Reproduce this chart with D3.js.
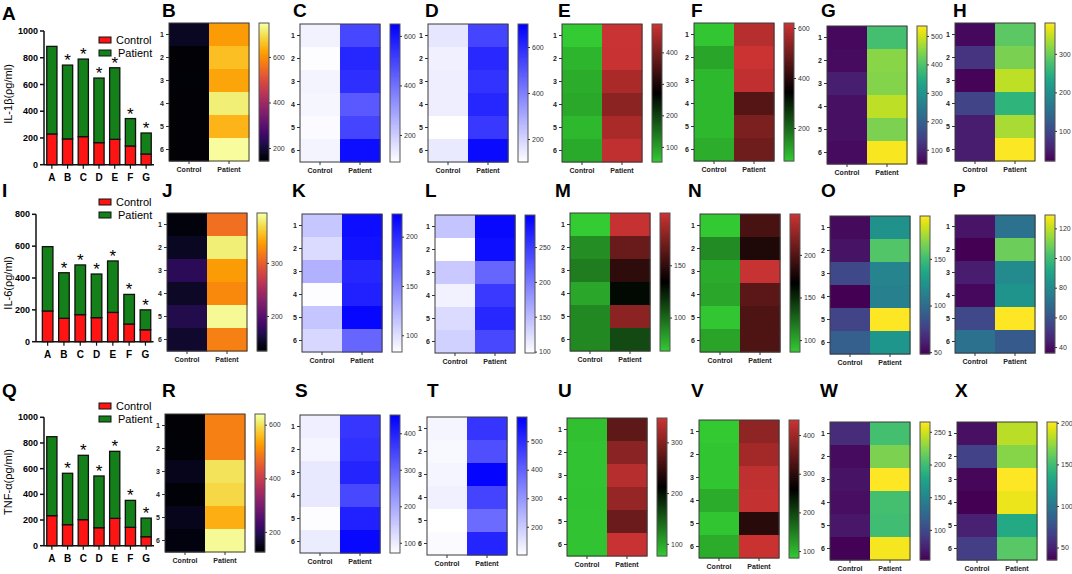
<!DOCTYPE html>
<html>
<head>
<meta charset="utf-8">
<script src="https://cdn.jsdelivr.net/npm/d3@7"></script>
<style>
  body { margin: 0; background: #fff; }
  svg { font-family: "Liberation Sans", Arial, sans-serif; }
</style>
</head>
<body>
<div id="fig"></div>
<script>
// ---------------------------------------------
// ---------          Data             ---------
// ---------------------------------------------

const barCats = ["A", "B", "C", "D", "E", "F", "G"];
const starred = ["B", "C", "D", "E", "F", "G"];
const legendKeys = ["Control", "Patient"];

// stacked bars: control part + patient part (pg/ml)
const il1bControl = [230, 193, 210, 165, 190, 140, 80];
const il1bPatient = [655, 552, 580, 483, 535, 205, 157];
const il6Control = [193, 147, 170, 151, 184, 111, 75];
const il6Patient = [404, 286, 312, 274, 323, 186, 125];
const tnfControl = [234, 164, 203, 140, 213, 143, 70];
const tnfPatient = [615, 400, 501, 403, 522, 210, 145];

const bar1000Ticks = [0, 200, 400, 600, 800, 1000];
const bar800Ticks = [0, 200, 400, 600, 800];

// heatmaps: [control rows 1-6], [patient rows 1-6]
const groups = ["Control", "Patient"];
const rowIds = ["1", "2", "3", "4", "5", "6"];

const hmB = [[180, 150, 152, 148, 150, 150], [616, 658, 628, 720, 646, 743]];
const hmC = [[120, 95, 115, 110, 100, 115], [492, 565, 548, 453, 498, 620]];
const hmD = [[160, 136, 140, 140, 100, 150], [538, 604, 580, 610, 568, 676]];
const hmE = [[54, 76, 85, 91, 74, 89], [488, 486, 453, 420, 453, 477]];
const hmF = [[75, 120, 95, 95, 95, 108], [592, 618, 605, 460, 510, 493]];
const hmG = [[60, 65, 90, 70, 70, 65], [390, 448, 445, 487, 440, 530]];
const hmH = [[30, 76, 25, 94, 50, 50], [290, 308, 344, 255, 333, 378]];

const hmJ = [[140, 150, 173, 152, 168, 155], [311, 381, 337, 326, 389, 321]];
const hmK = [[114, 103, 126, 84, 115, 105], [216, 213, 202, 205, 219, 167]];
const hmL = [[144, 98, 140, 108, 126, 134], [290, 286, 217, 252, 266, 240]];
const hmM = [[68, 88, 94, 80, 90, 90], [198, 168, 149, 131, 179, 110]];
const hmN = [[87, 112, 99, 101, 88, 102], [196, 179, 246, 203, 198, 198]];
const hmO = [[52, 55, 80, 48, 78, 92], [122, 156, 115, 112, 196, 126]];
const hmP = [[41, 36, 43, 38, 56, 71], [71, 108, 80, 84, 129, 62]];

const hmR = [[130, 132, 150, 132, 150, 138], [496, 496, 600, 588, 547, 630]];
const hmS = [[95, 87, 106, 106, 75, 100], [370, 378, 397, 344, 401, 438]];
const hmT = [[120, 115, 120, 130, 101, 108], [484, 435, 575, 455, 382, 517]];
const hmU = [[84, 82, 82, 83, 82, 82], [275, 304, 334, 312, 283, 346]];
const hmV = [[85, 88, 88, 109, 88, 109], [385, 403, 428, 431, 296, 437]];
const hmW = [[80, 60, 64, 62, 67, 55], [202, 223, 265, 202, 200, 262]];
const hmX = [[42, 68, 38, 35, 50, 65], [184, 171, 201, 196, 135, 158]];

// colour bar ranges and ticks
const rangeB = [143, 749], ticksB = [200, 400, 600];
const rangeC = [91, 648], ticksC = [200, 400, 600];
const rangeD = [100, 700], ticksD = [200, 400, 600];
const rangeE = [52, 490], ticksE = [100, 200, 300, 400];
const rangeF = [68, 620], ticksF = [200, 400, 600];
const rangeG = [50, 535], ticksG = [100, 200, 300, 400, 500];
const rangeH = [22, 380], ticksH = [100, 200, 300];
const rangeJ = [134, 394], ticksJ = [200, 300];
const rangeK = [83, 223], ticksK = [100, 150, 200];
const rangeL = [98, 296], ticksL = [100, 150, 200, 250];
const rangeM = [68, 200], ticksM = [100, 150];
const rangeN = [86, 248], ticksN = [100, 150, 200];
const rangeO = [48, 196], ticksO = [50, 100, 150];
const rangeP = [36, 129], ticksP = [40, 60, 80, 100, 120];
const rangeR = [125, 640], ticksR = [200, 400, 600];
const rangeS = [72, 450], ticksS = [100, 200, 300, 400];
const rangeT = [101, 585], ticksT = [200, 300, 400, 500];
const rangeU = [76, 348], ticksU = [100, 200, 300];
const rangeV = [82, 439], ticksV = [100, 200, 300, 400];
const rangeW = [54, 265], ticksW = [100, 150, 200, 250];
const rangeX = [35, 201], ticksX = [50, 100, 150, 200];

// ---------------------------------------------
// ---------         Layout            ---------
// ---------------------------------------------

const W = 1072, H = 574;
const red = "#ff1414", green = "#14801a";
const plotW = 80, plotH = 138, cbW = 10, cbGap = 10;

const barPanels = [
  { letter: "A", ly: 20, control: il1bControl, patient: il1bPatient, max: 1000, ticks: bar1000Ticks,
    axisX: 44, top: 31, bottom: 164.7, band: [44, 154], title: "IL-1β(ρg/ml)", titleY: 94, legY: 37 },
  { letter: "I", ly: 197, control: il6Control, patient: il6Patient, max: 800, ticks: bar800Ticks,
    axisX: 36, top: 214.3, bottom: 341.7, band: [39.5, 153.6], title: "IL-6(ρg/ml)", titleY: 283, legY: 199 },
  { letter: "Q", ly: 397, control: tnfControl, patient: tnfPatient, max: 1000, ticks: bar1000Ticks,
    axisX: 44, top: 417.3, bottom: 545.7, band: [44, 154], title: "TNF-α(ρg/ml)", titleY: 482, legY: 403 }
];

const heatPanels = [
  { letter: "B", vals: hmB, dom: rangeB, ticks: ticksB, scheme: "inferno", x: 169, y: 23, lx: 162, ly: 17 },
  { letter: "C", vals: hmC, dom: rangeC, ticks: ticksC, scheme: "blue", x: 300, y: 24, lx: 293, ly: 17 },
  { letter: "D", vals: hmD, dom: rangeD, ticks: ticksD, scheme: "blue", x: 428, y: 24, lx: 425, ly: 17 },
  { letter: "E", vals: hmE, dom: rangeE, ticks: ticksE, scheme: "gbr", x: 562, y: 24, lx: 558, ly: 17 },
  { letter: "F", vals: hmF, dom: rangeF, ticks: ticksF, scheme: "gbr", x: 694, y: 23, lx: 691, ly: 17 },
  { letter: "G", vals: hmG, dom: rangeG, ticks: ticksG, scheme: "viridis", x: 827, y: 26, lx: 821, ly: 17 },
  { letter: "H", vals: hmH, dom: rangeH, ticks: ticksH, scheme: "viridis", x: 955, y: 23, lx: 953, ly: 17 },

  { letter: "J", vals: hmJ, dom: rangeJ, ticks: ticksJ, scheme: "inferno", x: 167, y: 213, lx: 162, ly: 197 },
  { letter: "K", vals: hmK, dom: rangeK, ticks: ticksK, scheme: "blue", x: 302, y: 214, lx: 292, ly: 197 },
  { letter: "L", vals: hmL, dom: rangeL, ticks: ticksL, scheme: "blue", x: 435, y: 215, lx: 425, ly: 197 },
  { letter: "M", vals: hmM, dom: rangeM, ticks: ticksM, scheme: "gbr", x: 570, y: 213, lx: 555, ly: 197 },
  { letter: "N", vals: hmN, dom: rangeN, ticks: ticksN, scheme: "gbr", x: 700, y: 214, lx: 688, ly: 197 },
  { letter: "O", vals: hmO, dom: rangeO, ticks: ticksO, scheme: "viridis", x: 830, y: 216, lx: 821, ly: 197 },
  { letter: "P", vals: hmP, dom: rangeP, ticks: ticksP, scheme: "viridis", x: 955, y: 215, lx: 953, ly: 197 },

  { letter: "R", vals: hmR, dom: rangeR, ticks: ticksR, scheme: "inferno", x: 165, y: 414, lx: 162, ly: 397 },
  { letter: "S", vals: hmS, dom: rangeS, ticks: ticksS, scheme: "blue", x: 300, y: 415, lx: 295, ly: 397 },
  { letter: "T", vals: hmT, dom: rangeT, ticks: ticksT, scheme: "blue", x: 427, y: 417, lx: 427, ly: 397 },
  { letter: "U", vals: hmU, dom: rangeU, ticks: ticksU, scheme: "gbr", x: 567, y: 418, lx: 558, ly: 397 },
  { letter: "V", vals: hmV, dom: rangeV, ticks: ticksV, scheme: "gbr", x: 699, y: 420, lx: 691, ly: 397 },
  { letter: "W", vals: hmW, dom: rangeW, ticks: ticksW, scheme: "viridis", x: 830, y: 422, lx: 820, ly: 397 },
  { letter: "X", vals: hmX, dom: rangeX, ticks: ticksX, scheme: "viridis", x: 957, y: 422, lx: 955, ly: 397 }
];

const svg = d3.select("#fig").append("svg")
  .attr("width", W).attr("height", H);
const heatLayer = svg.append("g").attr("class", "heat-layer");
const barLayer = svg.append("g").attr("class", "bar-layer");
const textLayer = svg.append("g").attr("class", "text-layer");

function panelLetter(txt, x, y) {
  textLayer.append("text")
    .attr("x", x).attr("y", y)
    .attr("font-size", 19).attr("font-weight", "bold")
    .text(txt);
}

// ---------------------------------------------
// ---------      Stacked bars         ---------
// ---------------------------------------------

function drawBars(p) {
  const g = barLayer.append("g");
  const t = textLayer.append("g");
  const y = d3.scaleLinear().domain([0, p.max]).range([p.bottom, p.top]);
  const x = d3.scaleBand().domain(barCats).range(p.band)
    .paddingInner(0.35).paddingOuter(0.175);

  const rows = barCats.map((c, i) => ({ cat: c, control: p.control[i], patient: p.patient[i] }));
  const stacked = d3.stack().keys(["control", "patient"])(rows);

  g.selectAll("g.layer")
    .data(stacked)
    .join("g")
      .attr("class", "layer")
      .attr("fill", (d, i) => i ? green : red)
    .selectAll("rect")
    .data(d => d)
    .join("rect")
      .attr("x", d => x(d.data.cat))
      .attr("y", d => y(d[1]))
      .attr("width", x.bandwidth())
      .attr("height", d => y(d[0]) - y(d[1]))
      .attr("stroke", "#111")
      .attr("stroke-width", 1.3);

  // Y axis: line, ticks and labels from the scale
  g.append("line")
    .attr("x1", p.axisX).attr("x2", p.axisX)
    .attr("y1", y(0)).attr("y2", y(p.max))
    .attr("stroke", "#111").attr("stroke-width", 1.5);
  g.selectAll("line.yt")
    .data(p.ticks)
    .join("line")
      .attr("class", "yt")
      .attr("x1", p.axisX - 4).attr("x2", p.axisX)
      .attr("y1", d => y(d)).attr("y2", d => y(d))
      .attr("stroke", "#111").attr("stroke-width", 1.5);
  t.selectAll("text.yl")
    .data(p.ticks)
    .join("text")
      .attr("class", "yl")
      .attr("x", p.axisX - 6)
      .attr("y", d => y(d))
      .attr("dy", "0.35em")
      .attr("text-anchor", "end")
      .attr("font-size", 9).attr("font-weight", "bold")
      .text(d => d3.format("d")(d));

  // X axis
  g.append("line")
    .attr("x1", p.axisX).attr("x2", p.band[1])
    .attr("y1", p.bottom).attr("y2", p.bottom)
    .attr("stroke", "#111").attr("stroke-width", 1.5);
  g.selectAll("line.xt")
    .data(barCats)
    .join("line")
      .attr("class", "xt")
      .attr("x1", d => x(d) + x.bandwidth() / 2).attr("x2", d => x(d) + x.bandwidth() / 2)
      .attr("y1", p.bottom).attr("y2", p.bottom + 4)
      .attr("stroke", "#111").attr("stroke-width", 1.2);
  t.selectAll("text.xl")
    .data(barCats)
    .join("text")
      .attr("class", "xl")
      .attr("x", d => x(d) + x.bandwidth() / 2)
      .attr("y", p.bottom + 16)
      .attr("text-anchor", "middle")
      .attr("font-size", 10).attr("font-weight", "bold")
      .text(d => d);

  // Significance stars
  t.selectAll("text.star")
    .data(rows.filter(d => starred.includes(d.cat)))
    .join("text")
      .attr("class", "star")
      .attr("x", d => x(d.cat) + x.bandwidth() / 2)
      .attr("y", d => y(d.control + d.patient) + 1)
      .attr("text-anchor", "middle")
      .attr("font-size", 17)
      .text("*");

  // Y title
  t.append("text")
    .attr("transform", "translate(12," + p.titleY + ") rotate(-90)")
    .attr("text-anchor", "middle")
    .attr("font-size", 11)
    .text(p.title);

  // Legend
  const leg = t.selectAll("g.leg")
    .data(legendKeys)
    .join("g")
      .attr("class", "leg")
      .attr("transform", (d, i) => "translate(99," + (p.legY + i * 13) + ")");
  leg.append("rect")
    .attr("width", 12).attr("height", 6)
    .attr("fill", (d, i) => i ? green : red)
    .attr("stroke", "#111").attr("stroke-width", 1);
  leg.append("text")
    .attr("x", (d, i) => i ? 19 : 17).attr("y", 7)
    .attr("font-size", 11)
    .text(d => d);

  panelLetter(p.letter, 2, p.ly);
}

// ---------------------------------------------
// ---------        Heatmaps           ---------
// ---------------------------------------------

function colorFor(scheme, dom) {
  if (scheme === "inferno") return d3.scaleSequential(d3.interpolateInferno).domain(dom);
  if (scheme === "viridis") return d3.scaleSequential(d3.interpolateViridis).domain(dom);
  if (scheme === "blue") return d3.scaleLinear().domain(dom).range(["#ffffff", "#0000ff"]);
  return d3.scaleLinear()
    .domain([dom[0], (dom[0] + dom[1]) / 2, dom[1]])
    .range(["#33cc33", "#000000", "#cc3333"]);
}

function drawHeat(p) {
  const g = heatLayer.append("g");
  const color = colorFor(p.scheme, p.dom);
  const x = d3.scaleBand().domain(groups).range([p.x, p.x + plotW]);
  const y = d3.scaleBand().domain(rowIds).range([p.y, p.y + plotH]);

  const cells = [];
  groups.forEach((grp, gi) => rowIds.forEach((r, ri) => cells.push({ grp: grp, row: r, v: p.vals[gi][ri] })));

  g.selectAll("rect.cell")
    .data(cells)
    .join("rect")
      .attr("class", "cell")
      .attr("x", d => x(d.grp))
      .attr("y", d => y(d.row))
      .attr("width", x.bandwidth() + 0.5)
      .attr("height", y.bandwidth() + 0.5)
      .attr("fill", d => color(d.v));

  g.append("rect")
    .attr("x", p.x).attr("y", p.y).attr("width", plotW).attr("height", plotH)
    .attr("fill", "none").attr("stroke", "#3a3a3a").attr("stroke-width", 1);

  const ya = g.append("g")
    .attr("transform", "translate(" + p.x + ",0)")
    .call(d3.axisLeft(y).tickSize(3).tickSizeOuter(0).tickPadding(2));
  ya.select(".domain").remove();
  ya.selectAll("line").attr("stroke", "#333");
  ya.selectAll("text").attr("font-size", 7).attr("font-weight", "bold").attr("fill", "#222");

  const xa = g.append("g")
    .attr("transform", "translate(0," + (p.y + plotH) + ")")
    .call(d3.axisBottom(x).tickSize(3).tickSizeOuter(0).tickPadding(3));
  xa.select(".domain").remove();
  xa.selectAll("line").attr("stroke", "#333");
  xa.selectAll("text").attr("font-size", 7).attr("font-weight", "bold").attr("fill", "#222");

  // colour bar built from thin strips of the colour scale
  const cbx = p.x + plotW + cbGap;
  const cs = d3.scaleLinear().domain(p.dom).range([p.y + plotH, p.y]);
  const nStrips = 69;
  const stripVals = d3.range(nStrips).map(i => p.dom[0] + (i + 0.5) * (p.dom[1] - p.dom[0]) / nStrips);
  const stripH = plotH / nStrips;
  g.selectAll("rect.strip")
    .data(stripVals)
    .join("rect")
      .attr("class", "strip")
      .attr("x", cbx)
      .attr("y", d => cs(d) - stripH / 2)
      .attr("width", cbW)
      .attr("height", stripH + 0.4)
      .attr("fill", d => color(d));
  g.append("rect")
    .attr("x", cbx).attr("y", p.y).attr("width", cbW).attr("height", plotH)
    .attr("fill", "none")
    .attr("stroke", "#555").attr("stroke-width", 1);

  const ca = g.append("g")
    .attr("transform", "translate(" + (cbx + cbW) + ",0)")
    .call(d3.axisRight(cs).tickValues(p.ticks).tickSize(2).tickSizeOuter(0).tickPadding(2));
  ca.select(".domain").remove();
  ca.selectAll("line").attr("stroke", "#333");
  ca.selectAll("text").attr("font-size", 7).attr("fill", "#333");

  panelLetter(p.letter, p.lx, p.ly);
}

heatPanels.forEach(drawHeat);
barPanels.forEach(drawBars);
</script>
</body>
</html>
